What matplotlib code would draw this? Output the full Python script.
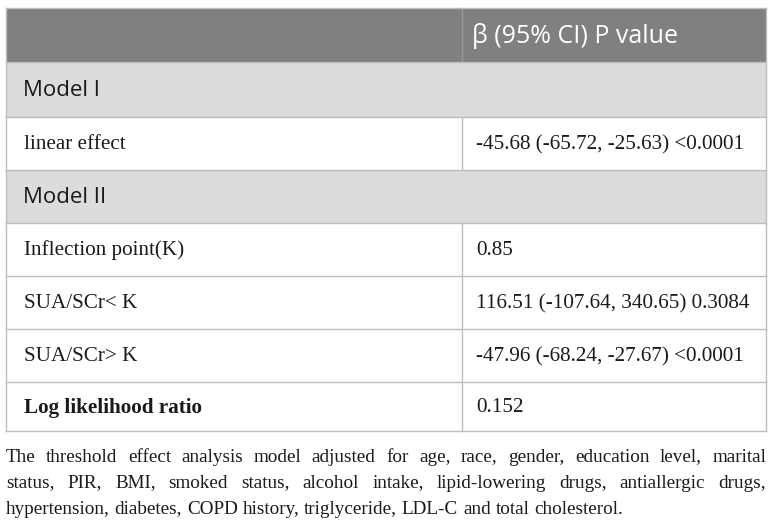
import matplotlib
matplotlib.use("Agg")
import matplotlib.pyplot as plt
from matplotlib.patches import Rectangle

# table content
header = "β (95% CI) P value"
row_labels = ["Model I", "linear effect", "Model II", "Inflection point(K)",
              "SUA/SCr< K", "SUA/SCr> K", "Log likelihood ratio"]
row_values = ["", "-45.68 (-65.72, -25.63) <0.0001", "", "0.85",
              "116.51 (-107.64, 340.65) 0.3084", "-47.96 (-68.24, -27.67) <0.0001", "0.152"]
row_kind = ["group", "data", "group", "data", "data", "data", "bold"]
footnote_lines = [
    "The threshold effect analysis model adjusted for age, race, gender, education level, marital",
    "status, PIR, BMI, smoked status, alcohol intake, lipid-lowering drugs, antiallergic drugs,",
    "hypertension, diabetes, COPD history, triglyceride, LDL-C and total cholesterol.",
]

W, H = 772, 524
x_left, x_mid, x_right = 6, 462, 766
y_top = 8
header_h = 54
row_h = [55, 53, 53, 53, 53, 53, 49]

SANS = "Open Sans"
SERIF = "Liberation Serif"
line_col = "#bdbdbd"

fig = plt.figure(figsize=(W / 100, H / 100), dpi=100)
ax = fig.add_axes([0, 0, 1, 1])
ax.set_xlim(0, W)
ax.set_ylim(H, 0)
ax.axis("off")

# header band
ax.add_patch(Rectangle((x_left, y_top), x_right - x_left, header_h, color="#808080", lw=0))
ax.plot([x_mid, x_mid], [y_top, y_top + header_h], color="#999999", lw=1)
ax.text(x_mid + 10, y_top + header_h / 2 + 1, header, color="white", fontsize=18,
        family=[SANS, "DejaVu Sans"], va="center", ha="left")

y = y_top + header_h
for label, value, kind, h in zip(row_labels, row_values, row_kind, row_h):
    if kind == "group":
        ax.add_patch(Rectangle((x_left, y), x_right - x_left, h, color="#dcdcdc", lw=0))
        ax.text(x_left + 17, y + h / 2 + 1, label, fontsize=16, family=SANS,
                color="#1a1a1a", va="center", ha="left")
    else:
        ax.plot([x_mid, x_mid], [y, y + h], color=line_col, lw=1)
        weight = "bold" if kind == "bold" else "normal"
        ax.text(x_left + 18, y + h / 2 + 1, label, fontsize=15.2, family=SERIF,
                weight=weight, color="#1a1a1a", va="center", ha="left")
        ax.text(x_mid + 14, y + h / 2 + 1, value, fontsize=15.2, family=SERIF,
                color="#1a1a1a", va="center", ha="left")
    ax.plot([x_left, x_right], [y, y], color=line_col, lw=1)
    y += h
y_bottom = y
ax.plot([x_left, x_right], [y_bottom, y_bottom], color=line_col, lw=1)
ax.plot([x_left, x_left], [y_top, y_bottom], color=line_col, lw=1)
ax.plot([x_right, x_right], [y_top, y_bottom], color=line_col, lw=1)
ax.plot([x_left, x_right], [y_top, y_top], color=line_col, lw=1)

# footnote, justified line by line (last line left aligned)
fig.canvas.draw()
renderer = fig.canvas.get_renderer()
fn_size = 13.8


def word_width(s):
    t = ax.text(0, 0, s, fontsize=fn_size, family=SERIF)
    w = t.get_window_extent(renderer).width
    t.remove()
    return w


space_w = word_width("a b") - word_width("ab")
avail = x_right - x_left
fy = y_bottom + 26
for i, text_line in enumerate(footnote_lines):
    words = text_line.split(" ")
    widths = [word_width(wd) for wd in words]
    if i < len(footnote_lines) - 1:
        gap = (avail - sum(widths)) / (len(words) - 1)
    else:
        gap = space_w
    fx = x_left
    for wd, ww in zip(words, widths):
        ax.text(fx, fy, wd, fontsize=fn_size, family=SERIF, color="#1a1a1a",
                va="center", ha="left")
        fx += ww + gap
    fy += 26

fig.savefig("out.png", dpi=100)
